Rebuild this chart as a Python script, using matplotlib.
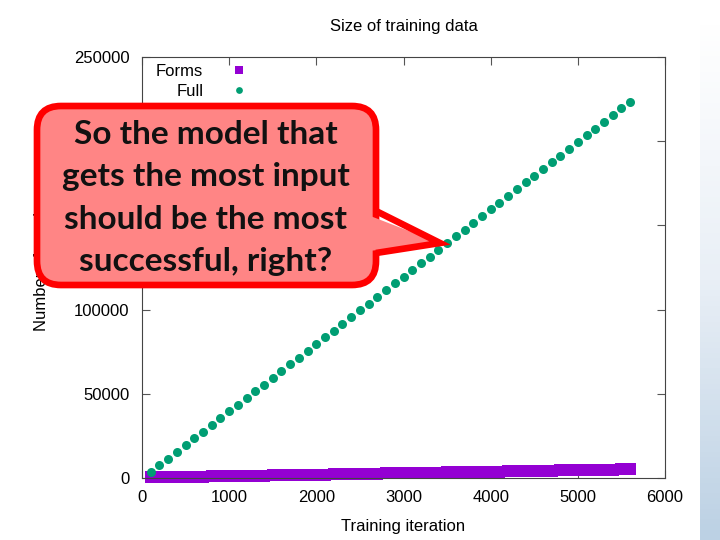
import numpy as np
import matplotlib
matplotlib.use('Agg')
import matplotlib.pyplot as plt
from matplotlib.patches import FancyBboxPatch, Polygon

# training iterations (x) and sizes of training data
iterations = [100, 200, 300, 400, 500, 600, 700, 800, 900, 1000,
              1100, 1200, 1300, 1400, 1500, 1600, 1700, 1800, 1900, 2000,
              2100, 2200, 2300, 2400, 2500, 2600, 2700, 2800, 2900, 3000,
              3100, 3200, 3300, 3400, 3500, 3600, 3700, 3800, 3900, 4000,
              4100, 4200, 4300, 4400, 4500, 4600, 4700, 4800, 4900, 5000,
              5100, 5200, 5300, 5400, 5500, 5600]
forms = [300, 390, 480, 570, 660, 750, 840, 930, 1010, 1100,
         1190, 1280, 1370, 1460, 1540, 1630, 1720, 1810, 1900, 1990,
         2070, 2160, 2250, 2340, 2430, 2520, 2600, 2690, 2780, 2870,
         2960, 3050, 3130, 3220, 3310, 3400, 3490, 3580, 3660, 3750,
         3840, 3930, 4020, 4110, 4190, 4280, 4370, 4460, 4550, 4640,
         4720, 4810, 4900, 4990, 5080, 5170]
full = [3500, 7500, 11500, 15500, 19500, 23500, 27500, 31500, 35500, 39500,
        43500, 47500, 51500, 55500, 59500, 63500, 67500, 71500, 75500, 79500,
        83500, 87500, 91500, 95500, 99500, 103500, 107500, 111500, 115500, 119500,
        123500, 127500, 131500, 135500, 139500, 143500, 147500, 151500, 155500, 159500,
        163500, 167500, 171500, 175500, 179500, 183500, 187500, 191500, 195500, 199500,
        203500, 207500, 211500, 215500, 219500, 223500]
series_names = ['Forms', 'Full']
callout_text = 'So the model that\ngets the most input\nshould be the most\nsuccessful, right?'

purple = '#9400d3'
green = '#009e73'

plt.rcParams['font.family'] = ['Liberation Sans', 'DejaVu Sans']

fig = plt.figure(figsize=(7.2, 5.4), dpi=100)

# slide background strip on the right
bg = fig.add_axes([0, 0, 1, 1], zorder=-5)
bg.set_xlim(0, 720)
bg.set_ylim(540, 0)
bg.axis('off')
grad = np.linspace(0, 1, 100).reshape(-1, 1)
bg.imshow(grad, extent=[700, 720, 540, 20], aspect='auto',
          cmap=matplotlib.colors.LinearSegmentedColormap.from_list('s', ['#ffffff', '#e9eff6', '#bcd1e4']))

ax = fig.add_axes([142/720, 1 - 478/540, (665-142)/720, (478-57)/540])
ax.plot(iterations, forms, 's', color=purple, markersize=8.5, markeredgewidth=0,
        label=series_names[0], clip_on=False)
ax.plot(iterations, full, 'o', color=green, markersize=6.5, markeredgewidth=0,
        label=series_names[1], clip_on=False)

ax.set_xlim(0, 6000)
ax.set_ylim(0, 250000)
ax.set_xticks([0, 1000, 2000, 3000, 4000, 5000, 6000])
ax.set_yticks([0, 50000, 100000, 150000, 200000, 250000])
ax.tick_params(direction='in', length=6, width=0.8, color='#555555', labelsize=12,
               top=True, right=True, pad=9)
for s in ax.spines.values():
    s.set_color('#444444')
    s.set_linewidth(0.8)
ax.set_title('Size of training data', fontsize=12, pad=19)
ax.set_xlabel('Training iteration', fontsize=12, labelpad=10)
ax.set_ylabel('Number of words', fontsize=12, labelpad=18)

leg = ax.legend(loc='upper left', bbox_to_anchor=(0.014, 1.0), markerfirst=False,
                frameon=False, fontsize=12, handlelength=0.8, handletextpad=1.75,
                labelspacing=0.3, borderaxespad=0.0, markerscale=0.75)
for col in leg._legend_handle_box.get_children():
    col.align = 'right'

# callout overlay
ov = fig.add_axes([0, 0, 1, 1], zorder=10)
ov.set_xlim(0, 720)
ov.set_ylim(540, 0)
ov.axis('off')
box = FancyBboxPatch((37, 106), 339, 179, boxstyle='round,pad=0,rounding_size=24',
                     facecolor='#ff8585', edgecolor='#ff0000', linewidth=4.8)
ov.add_patch(box)
ov.add_patch(Polygon([(360, 212), (440, 243), (360, 252)], closed=True,
                     facecolor='#ff8585', edgecolor='none'))
ov.plot([376, 440, 376], [211, 243, 253], color='#ff0000', linewidth=4.8,
        solid_joinstyle='miter', solid_capstyle='butt')
ov.text(206, 198, callout_text, ha='center', va='center', fontsize=24,
        fontweight='bold', family=['Lato', 'DejaVu Sans'], linespacing=1.55, color='#111111')

fig.savefig('out.png', dpi=100)
